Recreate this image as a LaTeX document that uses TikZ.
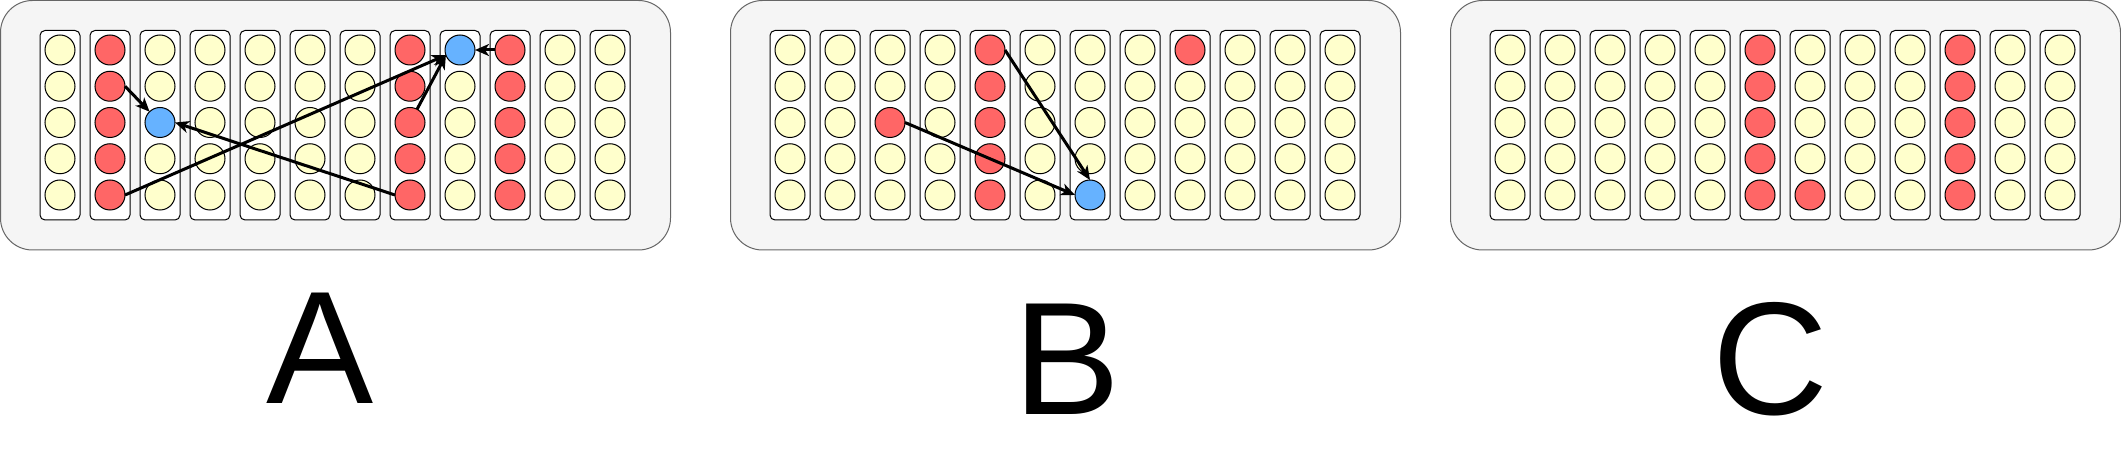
\documentclass[tikz,border=0pt]{standalone}
\usepackage{fontspec}
\setmainfont{Liberation Sans}
\usetikzlibrary{arrows.meta}
\definecolor{cellyellow}{HTML}{FFFFCC}
\definecolor{cellred}{HTML}{FF6666}
\definecolor{cellblue}{HTML}{66B2FF}
\definecolor{panelfill}{HTML}{F5F5F5}
\definecolor{panelgray}{HTML}{666666}
\tikzset{
  panel/.style={draw=panelgray, fill=panelfill, rounded corners=32pt, line width=1pt,
    minimum width=670pt, minimum height=249.5pt, inner sep=0pt, outer sep=0pt},
  colbox/.style={draw=black, fill=white, rounded corners=5pt, line width=1pt,
    minimum width=40pt, minimum height=189.5pt, inner sep=0pt, outer sep=0pt},
  cell/.style={circle, draw=black, line width=1pt, minimum size=30pt, inner sep=0pt,
    outer sep=0pt, fill=cellyellow},
  link/.style={line width=3pt, -{Stealth[length=14pt,width=12pt,inset=4pt]}},
  biglabel/.style={font=\fontsize{160.6}{190}\selectfont, anchor=base, inner sep=0pt},
  % red / blue cells
  colstyle-A-1/.style={fill=cellred},
  colstyle-A-7/.style={fill=cellred},
  colstyle-A-9/.style={fill=cellred},
  cellstyle-A-2-2/.style={fill=cellblue},
  cellstyle-A-8-0/.style={fill=cellblue},
  cellstyle-B-2-2/.style={fill=cellred},
  colstyle-B-4/.style={fill=cellred},
  cellstyle-B-6-4/.style={fill=cellblue},
  cellstyle-B-8-0/.style={fill=cellred},
  colstyle-C-5/.style={fill=cellred},
  cellstyle-C-6-4/.style={fill=cellred},
  colstyle-C-9/.style={fill=cellred},
}
\begin{document}
\begin{tikzpicture}[x=1pt, y=-1pt]
\useasboundingbox (0,0) rectangle (2121,454);
\foreach \p/\ox in {A/0,B/730,C/1450}{
  \node[panel] (panel-\p) at (\ox+335.5,125.25) {};
  \foreach \c in {0,...,11}{
    \node[colbox] (\p-col\c) at (\ox+60+50*\c,125.25) {};
    \foreach \r in {0,...,4}{
      \node[cell, colstyle-\p-\c/.try, cellstyle-\p-\c-\r/.try] (\p-\c-\r)
        at (\ox+60+50*\c,50+36.25*\r) {};
    }
  }
}
% Panel A connectors
\draw[link] (A-1-1.east) -- (A-2-2);
\draw[link] (A-1-4.east) -- (A-8-0.200);
\draw[link] (A-7-2) -- (A-8-0.200);
\draw[link] (A-9-0.west) -- (A-8-0.east);
\draw[link] (A-7-4.west) -- (A-2-2.east);
% Panel B connectors
\draw[link] (B-2-2.east) -- (B-6-4.west);
\draw[link] (B-4-0.east) -- (B-6-4.north);
% Labels
\node[biglabel] (labA) at (320,403) {A};
\node[biglabel] (labB) at (1067,414) {B};
\node[biglabel] (labC) at (1770,414) {C};
\end{tikzpicture}
\end{document}
